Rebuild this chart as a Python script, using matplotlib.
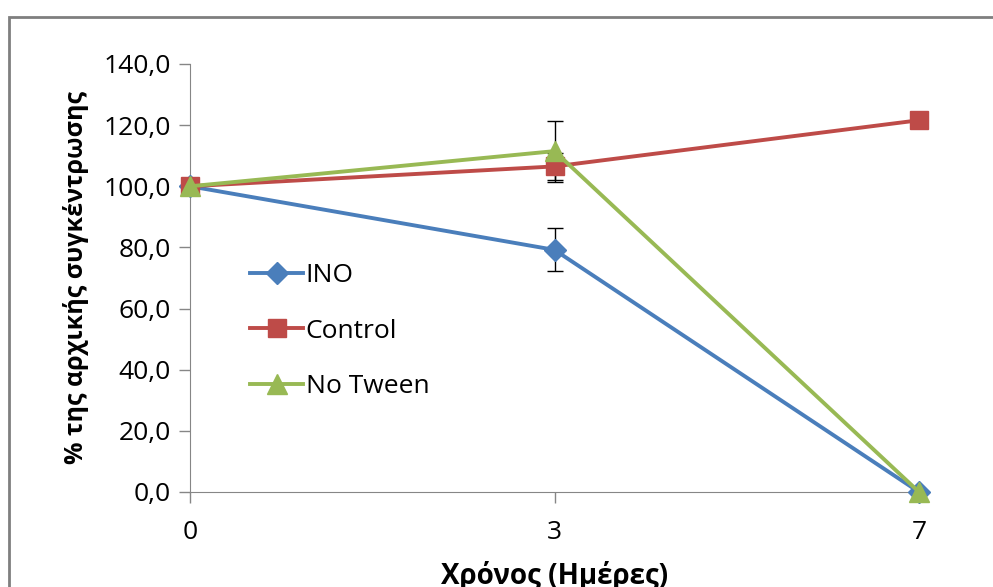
import matplotlib.pyplot as plt
from matplotlib.patches import Rectangle
from matplotlib.lines import Line2D
from matplotlib.ticker import FuncFormatter

plt.rcParams['font.family'] = ['Open Sans', 'DejaVu Sans']

days = ['0', '3', '7']
ino = [100.0, 79.2, 0.0]
ino_err = [0.0, 7.0, 0.0]
control = [100.0, 106.5, 121.6]
control_err = [0.0, 4.5, 0.0]
no_tween = [100.0, 111.5, 0.0]
no_tween_err = [0.0, 10.0, 0.0]

fig = plt.figure(figsize=(9.93, 5.87), dpi=100)
ax = fig.add_axes([190 / 993, 1 - 492 / 587, 729 / 993, 428 / 587])

x = list(range(len(days)))
series = [
    ('INO', ino, ino_err, '#4A7EBB', 'D', 11),
    ('Control', control, control_err, '#BE4B48', 's', 13),
    ('No Tween', no_tween, no_tween_err, '#98B954', '^', 14),
]
handles = []
for name, vals, err, col, mk, ms in series:
    ax.errorbar(x, vals, yerr=err, fmt='none', ecolor='black', elinewidth=1,
                capsize=6, capthick=1, zorder=2)
    ax.plot(x, vals, color=col, lw=2.8, marker=mk, ms=ms, clip_on=False, zorder=3)
    handles.append(Line2D([], [], color=col, lw=2.8, marker=mk, ms=ms, label=name))

ax.set_xlim(0, 2)
ax.set_ylim(0, 140)
ax.set_xticks(x)
ax.set_xticklabels(days)
ax.set_yticks(range(0, 141, 20))
ax.yaxis.set_major_formatter(FuncFormatter(lambda v, p: f'{v:.1f}'.replace('.', ',')))
ax.tick_params(labelsize=19, colors='#868686', labelcolor='black', length=8, width=1)
ax.tick_params(axis='y', pad=6)
ax.tick_params(axis='x', pad=12)
for s in ['top', 'right']:
    ax.spines[s].set_visible(False)
for s in ['left', 'bottom']:
    ax.spines[s].set_color('#868686')

ax.set_ylabel('% της αρχικής συγκέντρωσης', fontsize=18, fontweight='bold', labelpad=10)
ax.set_xlabel('Χρόνος (Ημέρες)', fontsize=20, fontweight='bold', labelpad=12)

ax.legend(handles=handles, loc='upper left', bbox_to_anchor=(0.05, 0.59), frameon=False,
          fontsize=19, handlelength=2.0, handletextpad=0.1, labelspacing=1.15)

fig.patches.append(Rectangle((9 / 993, -0.1), 1.2, 1 - 17 / 587 + 0.1,
                             transform=fig.transFigure, fill=False,
                             edgecolor='#7f7f7f', lw=2))

fig.savefig('out.png', dpi=100)
